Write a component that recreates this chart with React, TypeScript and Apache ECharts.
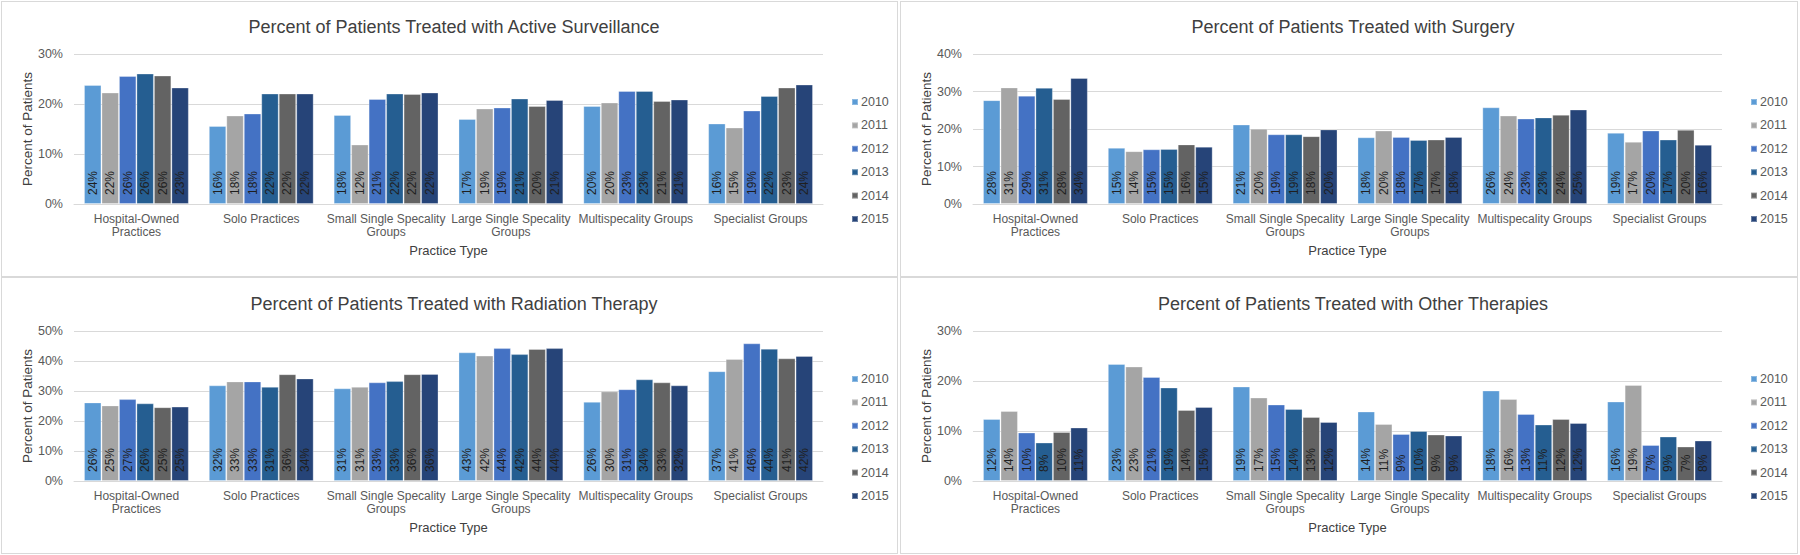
import React, { useEffect, useRef } from "react";
import * as echarts from "echarts";

const categories = [
  "Hospital-Owned\nPractices",
  "Solo Practices",
  "Small Single Specality\nGroups",
  "Large Single Specality\nGroups",
  "Multispecality Groups",
  "Specialist Groups",
];
const years = ["2010", "2011", "2012", "2013", "2014", "2015"];
const yearColors = ["#5B9BD5", "#A5A5A5", "#4472C4", "#255E91", "#636363", "#264478"];

// rows = years (2010..2015), columns = categories
const activeSurveillance = [
  [23.8, 15.6, 17.8, 17.0, 19.6, 16.1],
  [22.3, 17.7, 11.9, 19.1, 20.3, 15.3],
  [25.6, 18.1, 21.0, 19.3, 22.6, 18.7],
  [26.1, 22.1, 22.1, 21.1, 22.6, 21.6],
  [25.7, 22.1, 22.0, 19.6, 20.6, 23.3],
  [23.3, 22.1, 22.3, 20.8, 20.9, 23.9],
];
const surgery = [
  [27.7, 15.0, 21.2, 17.8, 25.8, 19.0],
  [31.1, 14.1, 20.1, 19.6, 23.6, 16.6],
  [28.9, 14.6, 18.6, 17.9, 22.8, 19.6],
  [31.0, 14.7, 18.6, 17.1, 23.1, 17.2],
  [28.0, 15.9, 18.1, 17.2, 23.8, 19.8],
  [33.6, 15.3, 19.9, 17.9, 25.2, 15.8],
];
const radiation = [
  [26.2, 31.9, 30.9, 42.9, 26.4, 36.6],
  [25.2, 33.2, 31.4, 41.8, 29.9, 40.7],
  [27.3, 33.2, 32.9, 44.3, 30.6, 45.9],
  [25.9, 31.4, 33.3, 42.3, 33.9, 44.1],
  [24.6, 35.6, 35.6, 44.0, 32.9, 40.9],
  [24.8, 34.2, 35.7, 44.3, 31.9, 41.7],
];
const otherTherapies = [
  [12.4, 23.4, 18.9, 13.9, 18.1, 15.9],
  [14.0, 22.9, 16.7, 11.4, 16.4, 19.2],
  [9.7, 20.8, 15.3, 9.4, 13.4, 7.2],
  [7.7, 18.7, 14.4, 10.0, 11.3, 8.9],
  [9.8, 14.2, 12.8, 9.3, 12.4, 6.9],
  [10.7, 14.8, 11.8, 9.1, 11.6, 8.1],
];

const FONT = "'Liberation Sans', Arial, sans-serif";

type PanelProps = {
  title: string;
  data: number[][];
  max: number;
  left: number;
  top: number;
  width: number;
  height: number;
  gridTop: number;
};

function Panel({ title, data, max, left, top, width, height, gridTop }: PanelProps) {
  const ref = useRef<HTMLDivElement>(null);
  useEffect(() => {
    const chart = echarts.init(ref.current!, null, { renderer: "svg" });
    chart.setOption({
      animation: false,
      textStyle: { fontFamily: FONT },
      title: {
        text: title,
        left: 447,
        textAlign: "center",
        top: gridTop - 41,
        textStyle: { fontFamily: FONT, fontSize: 18, fontWeight: "normal", color: "#404040" },
      },
      legend: {
        orient: "vertical",
        left: 844,
        top: gridTop + 36,
        itemWidth: 6,
        itemHeight: 6,
        itemGap: 9.4,
        icon: "rect",
        data: years,
        textStyle: { fontFamily: FONT, fontSize: 12.5, color: "#595959", lineHeight: 14, padding: [0, 0, 0, -2] },
      },
      grid: { left: 72, top: gridTop, width: 749, height: 150 },
      xAxis: {
        type: "category",
        data: categories,
        name: "Practice Type",
        nameLocation: "middle",
        nameGap: 40,
        nameMoveOverlap: false,
        nameTextStyle: { fontFamily: FONT, fontSize: 13, color: "#404040" },
        axisLine: { lineStyle: { color: "#d9d9d9" } },
        axisTick: { show: false },
        axisLabel: {
          interval: 0,
          margin: 8,
          fontFamily: FONT,
          fontSize: 12,
          lineHeight: 13,
          color: "#595959",
        },
      },
      yAxis: {
        type: "value",
        min: 0,
        max,
        interval: 10,
        name: "Percent of Patients",
        nameLocation: "middle",
        nameGap: 40,
        nameMoveOverlap: false,
        nameTextStyle: { fontFamily: FONT, fontSize: 13.5, color: "#404040" },
        axisLine: { show: false },
        axisTick: { show: false },
        splitLine: { lineStyle: { color: "#d9d9d9" } },
        axisLabel: {
          formatter: "{value}%",
          margin: 11,
          fontFamily: FONT,
          fontSize: 12.5,
          color: "#595959",
        },
      },
      series: years.map((y, i) => ({
        name: y,
        type: "bar",
        data: data[i],
        barGap: "0%",
        barCategoryGap: "16%",
        itemStyle: {
          color: yearColors[i],
          borderColor: "rgba(255,255,255,0.3)",
          borderWidth: 1,
        },
        label: {
          show: true,
          position: "insideBottom",
          rotate: 90,
          align: "left",
          verticalAlign: "middle",
          distance: 9,
          fontFamily: FONT,
          fontSize: 12,
          color: "#1f1f1f",
          textBorderWidth: 0,
          textBorderColor: "transparent",
          formatter: (p: any) => Math.round(p.value) + "%",
        },
      })),
    });
    return () => chart.dispose();
  }, []);
  return (
    <div
      style={{
        position: "absolute",
        left,
        top,
        width,
        height,
        boxSizing: "border-box",
        border: "1px solid #d9d9d9",
        background: "#fff",
      }}
    >
      <div ref={ref} style={{ width: width - 2, height: height - 2 }} />
    </div>
  );
}

export default function App() {
  return (
    <div style={{ position: "fixed", left: 0, top: 0, width: 1800, height: 555, background: "#fff" }}>
      <Panel title="Percent of Patients Treated with Active Surveillance" data={activeSurveillance} max={30}
        left={1} top={1} width={897} height={276} gridTop={52} />
      <Panel title="Percent of Patients Treated with Surgery" data={surgery} max={40}
        left={900} top={1} width={898} height={276} gridTop={52} />
      <Panel title="Percent of Patients Treated with Radiation Therapy" data={radiation} max={50}
        left={1} top={277} width={897} height={277} gridTop={53} />
      <Panel title="Percent of Patients Treated with Other Therapies" data={otherTherapies} max={30}
        left={900} top={277} width={898} height={277} gridTop={53} />
    </div>
  );
}
